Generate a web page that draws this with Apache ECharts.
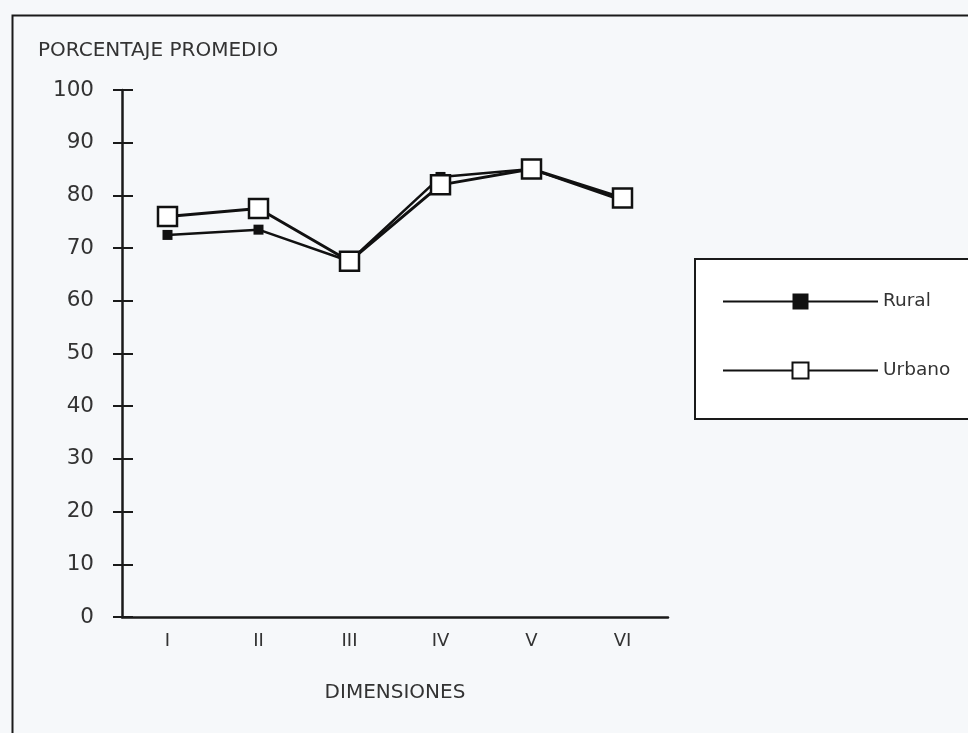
<!DOCTYPE html>
<html>
<head>
<meta charset="utf-8">
<script src="https://cdn.jsdelivr.net/npm/echarts@6/dist/echarts.min.js"></script>
<style>
html,body{margin:0;padding:0;background:#f6f8fa;}
#c{width:968px;height:733px;}
</style>
</head>
<body>
<div id="c"></div>
<script>
const categories = ['I', 'II', 'III', 'IV', 'V', 'VI'];
const rural = [72.5, 73.5, 67.5, 83.5, 85, 79];
const urbano = [76, 77.5, 67.5, 82, 85, 79.5];
const yTitle = 'PORCENTAJE PROMEDIO';
const xTitle = 'DIMENSIONES';

const FONT = '"DejaVu Sans", "Liberation Sans", Arial, sans-serif';
const TXT = '#333333';

const chart = echarts.init(document.getElementById('c'));
chart.setOption({
  backgroundColor: '#f6f8fa',
  animation: false,
  textStyle: { fontFamily: FONT, color: TXT },
  title: {
    text: yTitle, left: 33, top: 36,
    textStyle: { fontFamily: FONT, fontSize: 20, fontWeight: 'normal', color: TXT }
  },
  graphic: [
    { type: 'rect', left: 10, top: 13, shape: { width: 990, height: 760 },
      style: { fill: null, stroke: '#1a1a1a', lineWidth: 2 }, silent: true },
    { type: 'rect', left: 694, top: 258, shape: { width: 300, height: 160 },
      style: { fill: '#ffffff', stroke: '#1a1a1a', lineWidth: 2 }, silent: true, z: 0 }
  ],
  legend: {
    orient: 'vertical', left: 717, top: 287,
    itemWidth: 155, itemHeight: 20, itemGap: 50,
    textStyle: { fontFamily: FONT, fontSize: 18.5, color: TXT },
    data: ['Rural', 'Urbano'], z: 5
  },
  grid: { left: 122, right: 300, top: 90, bottom: 116 },
  xAxis: {
    type: 'category', data: categories, boundaryGap: true,
    axisLine: { lineStyle: { color: '#1a1a1a', width: 2.5 } },
    axisTick: { show: false },
    axisLabel: { fontFamily: FONT, fontSize: 18, color: TXT, margin: 15 },
    name: xTitle, nameLocation: 'middle', nameGap: 66,
    nameTextStyle: { fontFamily: FONT, fontSize: 20, color: TXT }
  },
  yAxis: [
    {
      type: 'value', min: 0, max: 100, interval: 10,
      splitLine: { show: false },
      axisLine: { show: true, lineStyle: { color: '#1a1a1a', width: 2.5 } },
      axisTick: { show: true, inside: false, length: 9, lineStyle: { color: '#1a1a1a', width: 2 } },
      axisLabel: { fontFamily: FONT, fontSize: 21.5, color: TXT, margin: 28 }
    },
    {
      type: 'value', min: 0, max: 100, interval: 10, position: 'left',
      splitLine: { show: false },
      axisLine: { show: false },
      axisTick: { show: true, inside: true, length: 11, lineStyle: { color: '#1a1a1a', width: 2 } },
      axisLabel: { show: false }
    }
  ],
  series: [
    {
      name: 'Rural', type: 'line', data: rural, yAxisIndex: 0,
      symbol: 'rect', symbolSize: 10,
      itemStyle: { color: '#111111' },
      lineStyle: { color: '#111111', width: 2.5 },
      z: 3
    },
    {
      name: 'Urbano', type: 'line', data: urbano, yAxisIndex: 0,
      symbol: 'rect', symbolSize: 19,
      itemStyle: { color: '#ffffff', borderColor: '#111111', borderWidth: 2.5 },
      lineStyle: { color: '#111111', width: 3 },
      z: 4
    }
  ]
});
</script>
</body>
</html>
